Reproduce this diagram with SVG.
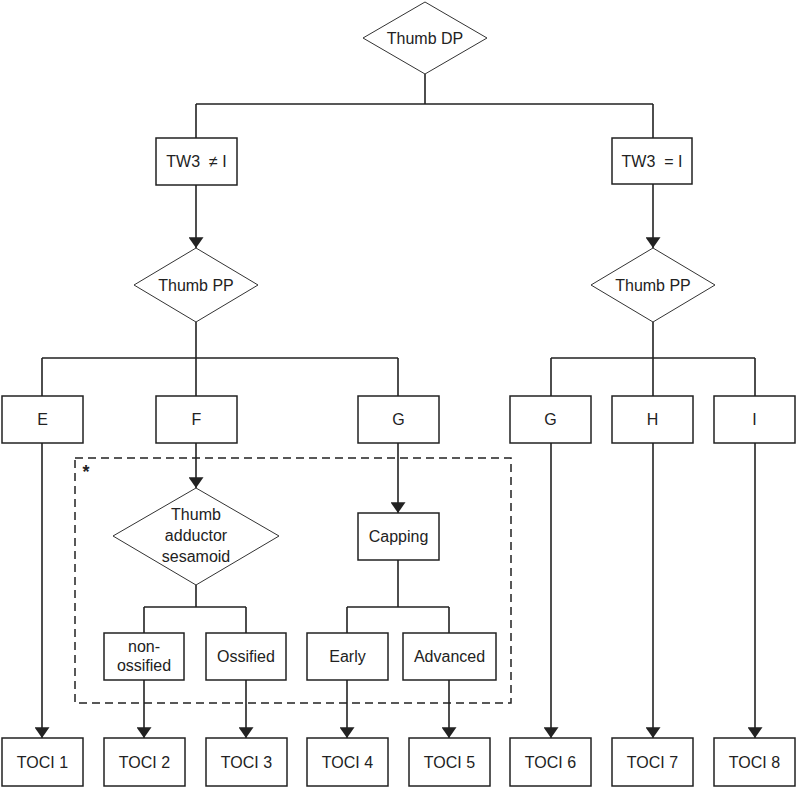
<svg xmlns="http://www.w3.org/2000/svg" width="797" height="788" viewBox="0 0 797 788">
<style>
.box{fill:#fff;stroke:#222;stroke-width:1.5}
.dia{fill:#fff;stroke:#333;stroke-width:1}
.ln{fill:none;stroke:#222;stroke-width:1.6}
.ar{fill:none;stroke:#222;stroke-width:1.6;marker-end:url(#ah)}
text{font-family:"Liberation Sans",Arial,sans-serif;font-size:16px;fill:#222;text-anchor:middle;dominant-baseline:central}
</style>
<defs>
<marker id="ah" viewBox="0 0 10 14" refX="10" refY="7" markerWidth="11" markerHeight="15" markerUnits="userSpaceOnUse" orient="auto">
<path d="M0,0 L10,7 L0,14 Z" fill="#222"/>
</marker>
</defs>
<rect width="797" height="788" fill="#fff"/>
<g id="connectors">
<path class="ln" d="M425,74 V104 M196,104 H653 M196,104 V138 M653,104 V138"/>
<path class="ar" d="M196,185 V248"/>
<path class="ar" d="M653,184 V248"/>
<path class="ln" d="M196,322 V358 M42,358 H398 M42,358 V396 M196,358 V396 M398,358 V396"/>
<path class="ln" d="M653,322 V358 M551,358 H755 M551,358 V396 M653,358 V396 M755,358 V396"/>
<path class="ar" d="M196,443 V488"/>
<path class="ar" d="M398,443 V513"/>
<path class="ln" d="M196,585 V607 M144,607 H246 M144,607 V633 M246,607 V633"/>
<path class="ln" d="M398,560 V607 M347,607 H449 M347,607 V633 M449,607 V633"/>
<path class="ar" d="M42,443 V738"/>
<path class="ar" d="M144,680 V738"/>
<path class="ar" d="M246,680 V738"/>
<path class="ar" d="M347,680 V738"/>
<path class="ar" d="M449,680 V738"/>
<path class="ar" d="M551,443 V738"/>
<path class="ar" d="M653,443 V738"/>
<path class="ar" d="M755,443 V738"/>
</g>
<g id="dashed-region">
<rect x="75" y="458" width="436" height="245" fill="none" stroke="#222" stroke-width="1.5" stroke-dasharray="8,5"/>
<text x="86" y="472" style="font-size:18px;font-weight:bold">*</text>
</g>
<g id="thumb-dp"><polygon class="dia" points="425,2 487,38 425,74 363,38"/><text x="425" y="38">Thumb DP</text></g>
<g id="tw3-ne"><rect class="box" x="156" y="138" width="81" height="47"/><text x="196.5" y="161.5" xml:space="preserve">TW3  ≠ I</text></g>
<g id="tw3-eq"><rect class="box" x="612" y="138" width="80" height="46"/><text x="652" y="161" xml:space="preserve">TW3  = I</text></g>
<g id="thumb-pp-left"><polygon class="dia" points="196,248 258,285 196,322 134,285"/><text x="196" y="285">Thumb PP</text></g>
<g id="thumb-pp-right"><polygon class="dia" points="653,248 715,285 653,322 591,285"/><text x="653" y="285">Thumb PP</text></g>
<g id="e"><rect class="box" x="2" y="396" width="81" height="47"/><text x="42.5" y="419.5">E</text></g>
<g id="f"><rect class="box" x="156" y="396" width="81" height="47"/><text x="196.5" y="419.5">F</text></g>
<g id="g1"><rect class="box" x="358" y="396" width="81" height="47"/><text x="398.5" y="419.5">G</text></g>
<g id="g2"><rect class="box" x="510" y="396" width="81" height="47"/><text x="550.5" y="419.5">G</text></g>
<g id="h"><rect class="box" x="612" y="396" width="81" height="47"/><text x="652.5" y="419.5">H</text></g>
<g id="i"><rect class="box" x="714" y="396" width="81" height="47"/><text x="754.5" y="419.5">I</text></g>
<g id="sesamoid"><polygon class="dia" points="196,488 279,536 196,585 113,536"/><text x="196" y="514">Thumb</text><text x="196" y="535">adductor</text><text x="196" y="556">sesamoid</text></g>
<g id="capping"><rect class="box" x="358" y="513" width="81" height="47"/><text x="398.5" y="536.5">Capping</text></g>
<g id="non-ossified"><rect class="box" x="104" y="633" width="80" height="47"/><text x="144" y="646">non-</text><text x="144" y="665">ossified</text></g>
<g id="ossified"><rect class="box" x="206" y="633" width="80" height="47"/><text x="246" y="656.5">Ossified</text></g>
<g id="early"><rect class="box" x="307" y="633" width="81" height="47"/><text x="347.5" y="656.5">Early</text></g>
<g id="advanced"><rect class="box" x="403" y="633" width="93" height="47"/><text x="449.5" y="656.5">Advanced</text></g>
<g id="toci1"><rect class="box" x="2" y="738" width="81" height="48"/><text x="42.5" y="762">TOCI 1</text></g>
<g id="toci2"><rect class="box" x="104" y="738" width="81" height="48"/><text x="144.5" y="762">TOCI 2</text></g>
<g id="toci3"><rect class="box" x="206" y="738" width="81" height="48"/><text x="246.5" y="762">TOCI 3</text></g>
<g id="toci4"><rect class="box" x="307" y="738" width="81" height="48"/><text x="347.5" y="762">TOCI 4</text></g>
<g id="toci5"><rect class="box" x="409" y="738" width="81" height="48"/><text x="449.5" y="762">TOCI 5</text></g>
<g id="toci6"><rect class="box" x="510" y="738" width="81" height="48"/><text x="550.5" y="762">TOCI 6</text></g>
<g id="toci7"><rect class="box" x="612" y="738" width="81" height="48"/><text x="652.5" y="762">TOCI 7</text></g>
<g id="toci8"><rect class="box" x="714" y="738" width="81" height="48"/><text x="754.5" y="762">TOCI 8</text></g>
</svg>
